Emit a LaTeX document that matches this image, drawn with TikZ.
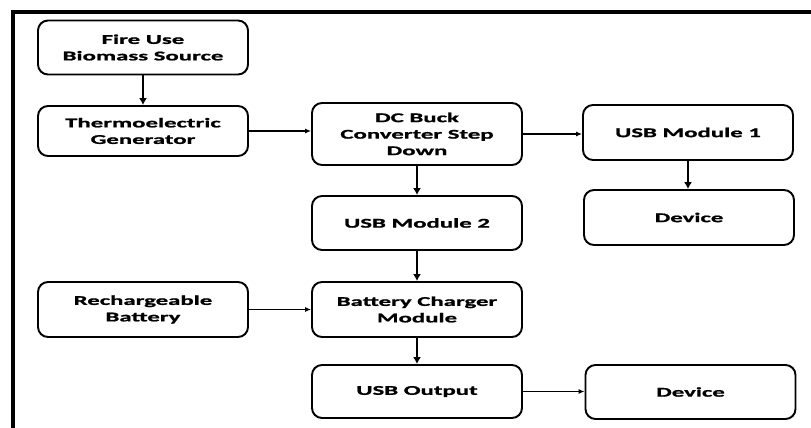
\documentclass[tikz,border=0pt]{standalone}
\usepackage{fontspec}
\setmainfont{Carlito}[FakeStretch=1.85, BoldFeatures={FakeBold=1.2}]
\usetikzlibrary{arrows.meta}
\begin{document}
\begin{tikzpicture}[x=1pt,y=-1pt,
  block/.style={draw=black, line width=1.9pt, rounded corners=10pt, fill=white,
    minimum width=210pt, inner sep=0pt, align=center,
    font=\fontsize{13.4}{16.5}\selectfont\bfseries},
  thickarrow/.style={line width=2.6pt, -{Latex[length=7pt,width=8pt]}},
  thinarrow/.style={line width=1.3pt, -{Latex[length=6pt,width=5pt]}}]
  \useasboundingbox (0,0) rectangle (811,428);
  % outer frame (top and left edges only)
  \draw[line width=4pt] (811,12) -- (13,12) -- (13,428);

  % blocks
  \node[block, minimum height=54pt] (fire) at (143,47.5) {Fire Use\\Biomass Source};
  \node[block, minimum height=50pt] (teg)  at (143,131) {Thermoelectric\\Generator};
  \node[block, minimum height=62pt] (dcb)  at (417,134) {DC Buck\\Converter Step\\Down};
  \node[block, minimum height=54pt] (usb2) at (417,223) {USB Module 2};
  \node[block, minimum height=55pt] (usb1) at (688,132.5) {USB Module 1};
  \node[block, minimum height=55pt] (dev1) at (689,217.5) {Device};
  \node[block, minimum height=55pt] (bat)  at (143,309.5) {Rechargeable\\Battery};
  \node[block, minimum height=55pt] (chg)  at (417,309.5) {Battery Charger\\Module};
  \node[block, minimum height=53pt] (usbo) at (417,391.5) {USB Output};
  \node[block, minimum height=54pt] (dev2) at (690.5,392) {Device};

  % connectors
  \draw[thickarrow] (fire) -- (teg);
  \draw[thinarrow] (teg.east) -- (teg.east -| dcb.west);
  \draw[thinarrow] (dcb.east) -- (dcb.east -| usb1.west);
  \draw[thickarrow] (dcb) -- (usb2);
  \draw[thickarrow] (usb1) -- (dev1.north -| usb1.south);
  \draw[thickarrow] (usb2) -- (chg);
  \draw[thinarrow] (bat) -- (chg);
  \draw[thickarrow] (chg) -- (usbo);
  \draw[thinarrow] (usbo) -- (usbo -| dev2.west);
\end{tikzpicture}
\end{document}
